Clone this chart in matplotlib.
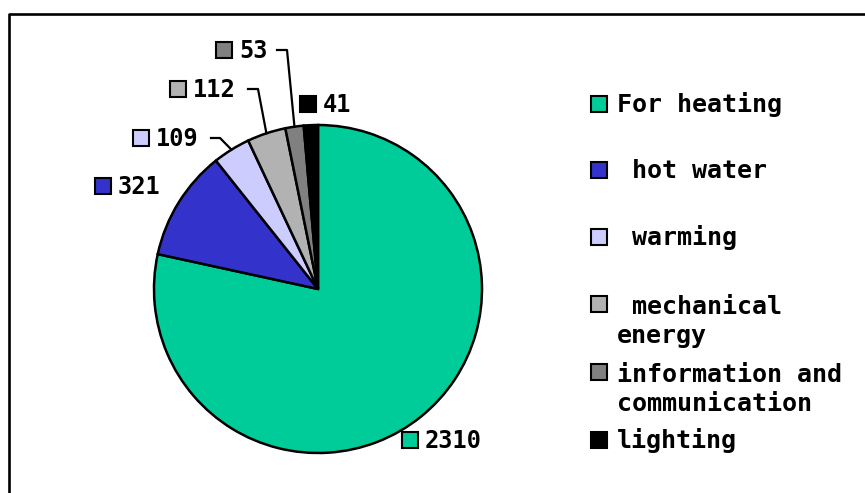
import numpy as np
import matplotlib
matplotlib.use("Agg")
import matplotlib.pyplot as plt
from matplotlib.patches import Rectangle
from matplotlib.lines import Line2D

# energy use by purpose
labels = ["For heating", " hot water", " warming", " mechanical\nenergy",
          "information and\ncommunication", "lighting"]
values = [2310, 321, 109, 112, 53, 41]
colors = ["#00CC99", "#3333CC", "#CCCCFF", "#B2B2B2", "#808080", "#000000"]

W, H = 865, 493
fig = plt.figure(figsize=(W / 100, H / 100), dpi=100)
FONT = "DejaVu Sans Mono"
LINE_GAP = 31  # px between wrapped legend lines


def fx(x):
    return x / W


def fy(y):
    return 1 - y / H


def square(x, y_bottom, color, size=16):
    fig.add_artist(Rectangle((fx(x), fy(y_bottom)), size / W, size / H,
                             transform=fig.transFigure, facecolor=color,
                             edgecolor="black", linewidth=1.5))


# outer frame (runs off the right and bottom edges)
fig.add_artist(Line2D([fx(8.5), fx(8.5), 1.0], [0.0, fy(13.5), fy(13.5)],
                      transform=fig.transFigure, color="black", linewidth=1.9))

# pie centred at (318, 289) px, radius 164 px
cx, cy, r = 318, 289, 164
ax = fig.add_axes([fx(cx - r), fy(cy + r), 2 * r / W, 2 * r / H])
wedges, _ = ax.pie(values, colors=colors, startangle=90, counterclock=False,
                   radius=1.0,
                   wedgeprops=dict(edgecolor="black", linewidth=1.8))
ax.set_xlim(-1, 1)
ax.set_ylim(-1, 1)
ax.set_aspect("equal")
ax.axis("off")

# data labels: square left x, baseline y, leader elbow (x0, x1) or None
label_pos = [(402, 448, None), (95, 194, None), (133, 146, (211, 220)),
             (170, 97, (248, 258)), (216, 58, (277, 287)), (300, 112, None)]

for w, v, c, (x, base, lead) in zip(wedges, values, colors, label_pos):
    square(x, base, c)
    fig.text(fx(x + 23), fy(base), str(v), fontsize=17, fontweight="bold",
             family=FONT, va="baseline", ha="left")
    if lead is not None:
        ang = np.deg2rad((w.theta1 + w.theta2) / 2)
        px, py = ax.transData.transform((np.cos(ang), np.sin(ang)))
        ly = base - 8
        fig.add_artist(Line2D([fx(lead[0]), fx(lead[1]), px / W],
                              [fy(ly), fy(ly), py / H],
                              transform=fig.transFigure, color="black",
                              linewidth=1.6))

# legend (baseline of first line of each entry)
legend_base = [112, 178, 245, 312, 380, 448]
for lab, c, base in zip(labels, colors, legend_base):
    square(591, base, c)
    last = base + LINE_GAP * lab.count("\n")
    fig.text(fx(617), fy(last), lab, fontsize=18, fontweight="bold",
             family=FONT, va="baseline", ha="left", linespacing=1.25)

fig.savefig("out.png", dpi=100)
